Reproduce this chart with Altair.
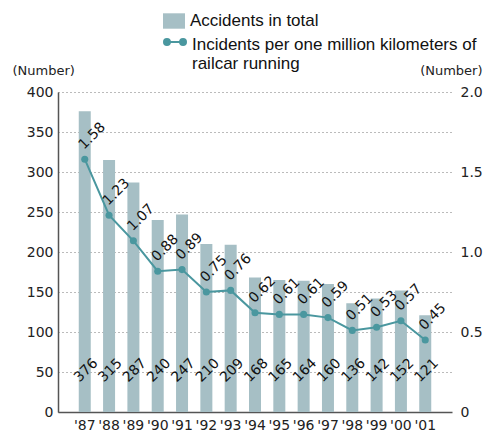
import altair as alt
import pandas as pd

years = ["'87", "'88", "'89", "'90", "'91", "'92", "'93", "'94", "'95", "'96", "'97", "'98", "'99", "'00", "'01"]
accidents = [376, 315, 287, 240, 247, 210, 209, 168, 165, 164, 160, 136, 142, 152, 121]
rate = [1.58, 1.23, 1.07, 0.88, 0.89, 0.75, 0.76, 0.62, 0.61, 0.61, 0.59, 0.51, 0.53, 0.57, 0.45]
left_ticks = [0, 50, 100, 150, 200, 250, 300, 350, 400]
right_ticks = [0, 0.5, 1.0, 1.5, 2.0]

BAR = "#a6bfc5"
LINE = "#4a979f"
FONT = "DejaVu Sans"

df = pd.DataFrame({
    "year": years,
    "accidents": accidents,
    "rate": rate,
    "rate_label": [f"{v:.2f}" for v in rate],
    "s1": "Accidents in total",
    "s2": "Incidents per one million kilometers of railcar running",
})

x = alt.X("year:N", sort=years,
          scale=alt.Scale(paddingInner=0.5, paddingOuter=0.85),
          axis=alt.Axis(title=None, labelAngle=0, ticks=False, domainColor="#555",
                        domainWidth=1.5, labelFont=FONT, labelFontSize=14,
                        labelColor="#222", labelPadding=6))

left_axis = alt.Axis(values=left_ticks, title="(Number)", titleAngle=0,
                     titleX=-46, titleY=-22, titleAlign="left", titleBaseline="middle",
                     titleFont=FONT, titleFontSize=13, titleFontWeight="normal",
                     titleColor="#222", labelOverlap=False,
                     grid=True, gridDash=[1, 3], gridColor="#777", gridWidth=1,
                     ticks=False, domainColor="#555", domainWidth=1.5,
                     labelFont=FONT, labelFontSize=14, labelColor="#222",
                     labelPadding=5)
left_scale = alt.Scale(domain=[0, 400])

base = alt.Chart(df)

bars = base.mark_bar(size=12).encode(
    x=x,
    y=alt.Y("accidents:Q", scale=left_scale, axis=left_axis),
    fill=alt.Fill("s1:N", scale=alt.Scale(range=[BAR]),
                  legend=alt.Legend(title=None, orient="none", legendX=105, legendY=-82,
                                    symbolType="M-1,-0.7H1V0.7H-1Z", symbolSize=484,
                                    symbolStrokeWidth=0, labelFont="Liberation Sans",
                                    labelFontSize=17, labelOffset=5, padding=0,
                                    labelColor="#111")),
)

bar_text = base.mark_text(angle=315, align="center", baseline="middle", dx=2,
                          font=FONT, fontSize=14, color="#111").encode(
    x=x,
    y=alt.Y(datum=50, scale=left_scale, axis=left_axis),
    text=alt.Text("accidents:Q"),
)

left = alt.layer(bars, bar_text)

yright = alt.Y("rate:Q", scale=alt.Scale(domain=[0, 2]),
               axis=alt.Axis(orient="right", values=right_ticks, title="(Number)",
                             titleAngle=0, titleX=30, titleY=-22, titleAlign="right",
                             titleBaseline="middle", titleFont=FONT, titleFontSize=13,
                             titleFontWeight="normal", titleColor="#222",
                             grid=False, ticks=False, domain=False, labelOverlap=False,
                             labelFont=FONT, labelFontSize=14, labelColor="#222",
                             labelPadding=8,
                             labelExpr="datum.value == 0 ? '0' : format(datum.value, '.1f')"))

dot_path = ("M-1,0.45A0.27,0.27,0,1,0,-0.46,0.45A0.27,0.27,0,1,0,-1,0.45Z"
            "M0.46,0.45A0.27,0.27,0,1,0,1,0.45A0.27,0.27,0,1,0,0.46,0.45Z"
            "M-0.46,0.45L0.46,0.45")

line = base.mark_line(strokeWidth=2).encode(
    x=x,
    y=yright,
    stroke=alt.Stroke("s2:N", scale=alt.Scale(range=[LINE]),
                      legend=alt.Legend(title=None, orient="none", legendX=105, legendY=-67,
                                        symbolType=dot_path, symbolSize=484,
                                        symbolStrokeWidth=2, symbolFillColor=LINE,
                                        labelFont="Liberation Sans", labelFontSize=17,
                                        labelOffset=5, padding=0, labelLimit=400,
                                        labelBaseline="top", labelColor="#111",
                                        labelExpr="['Incidents per one million kilometers of', 'railcar running']")),
)

points = base.mark_circle(size=50, color=LINE, opacity=1).encode(x=x, y=yright)

line_text = base.mark_text(angle=315, align="left", baseline="middle", dx=6, dy=-11,
                           font=FONT, fontSize=14, color="#111").encode(
    x=x,
    y=yright,
    text="rate_label:N",
)

right = alt.layer(line, points, line_text)

chart = alt.layer(left, right).resolve_scale(y="independent").properties(
    width=394, height=320,
    autosize=alt.AutoSizeParams(type="none"),
    padding={"left": 50, "top": 84, "right": 31, "bottom": 21},
    background="white",
).configure_view(stroke=None)

chart.save("out.html", embed_options={"renderer": "svg", "actions": False})
